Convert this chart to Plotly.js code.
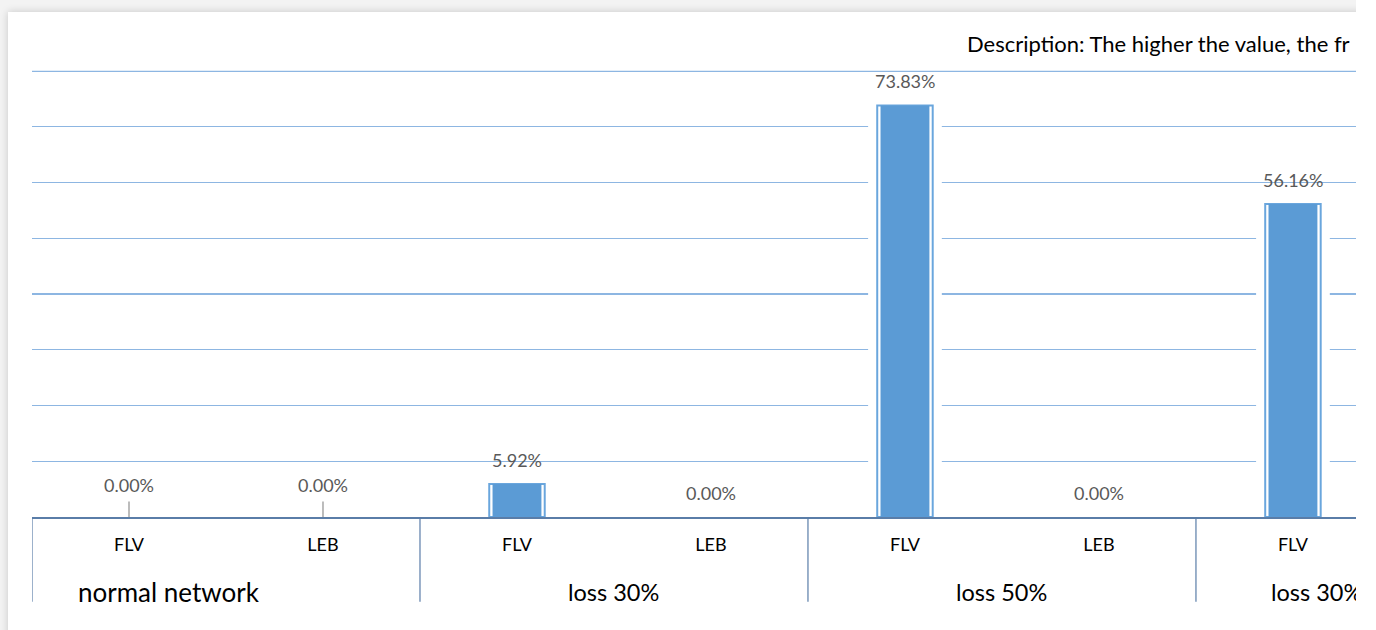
<!DOCTYPE html>
<html>
<head>
<meta charset="utf-8">
<script src="https://cdn.plot.ly/plotly-3.0.1.min.js"></script>
<style>
  html, body { margin: 0; padding: 0; background: #ffffff; }
  #wrap { position: relative; width: 1356px; height: 630px; overflow: hidden; background: #f3f3f3; }
  #card { position: absolute; left: 8px; top: 12px; width: 1500px; height: 700px; background: #ffffff;
          box-shadow: 0 0 8px rgba(0,0,0,0.18); }
  #chart { position: absolute; left: 0; top: 0; width: 1356px; height: 630px; }
</style>
</head>
<body>
<div id="wrap">
  <div id="card"></div>
  <div id="chart"></div>
</div>
<script>
// ---- data ----
const groups = ["normal network", "loss 30%", "loss 50%", "loss 30%"];
const categories = ["FLV", "LEB", "FLV", "LEB", "FLV", "LEB", "FLV"];
const groupOf = [0, 0, 1, 1, 2, 2, 3];
const values = [0.00, 0.00, 5.92, 0.00, 73.83, 0.00, 56.16];
const description = "Description: The higher the value, the fr";
const yMax = 80;

// ---- style ----
const BAR = "#5B9BD5";
const FONT = "Lato, 'Open Sans', sans-serif";
const GRID = "#8DB6E2";
const groupLabelShift = [-57, 0, 0, 0];     // pixel shifts of group labels
const groupLabelSize = [26, 23.5, 23.5, 23.5];
const lastGroupCenter = 6.12;               // visible part of the cut-off last group

const xs = categories.map((_, i) => i);

const halo = {
  type: "bar", x: xs, y: values, width: 0.38,
  marker: { color: "#ffffff", line: { width: 0 } },
  hoverinfo: "skip", showlegend: false
};
const outline = {
  type: "bar", x: xs, y: values, width: 0.286,
  marker: { color: "#ffffff", line: { color: "#6AA6DD", width: values.map(v => v > 0 ? 2 : 0) } },
  hoverinfo: "skip", showlegend: false
};
const fill = {
  type: "bar", x: xs, y: values, width: 0.252,
  marker: { color: BAR, line: { width: 0 } },
  showlegend: false
};

// group dividers
const shapes = [];
const bounds = [-0.5];
for (let i = 1; i < groupOf.length; i++) if (groupOf[i] !== groupOf[i - 1]) bounds.push(i - 0.5);
bounds.forEach(b => shapes.push({
  type: "line", xref: "x", yref: "paper", x0: b, x1: b, y0: 0, y1: -0.19,
  line: { color: "#5A7DA8", width: 1.2 }
}));
// top gridline (at the range maximum)
shapes.push({
  type: "line", xref: "paper", yref: "paper", x0: 0, x1: 1, y0: 0.999, y1: 0.999,
  line: { color: GRID, width: 1.2 }, layer: "above"
});

const annotations = [];
// data labels
values.forEach((v, i) => {
  const txt = v.toFixed(2) + "%";
  if (groupOf[i] === 0) {
    annotations.push({
      x: i, y: v, xref: "x", yref: "y", text: txt, showarrow: true,
      arrowhead: 0, ax: 0, ay: -32, arrowcolor: "#A6A6A6", arrowwidth: 1.5, startstandoff: 4,
      font: { family: FONT, size: 18, color: "#595959" }
    });
  } else {
    annotations.push({
      x: i, y: v, xref: "x", yref: "y", text: txt, showarrow: false,
      yanchor: "middle", yshift: 24,
      font: { family: FONT, size: 18, color: "#595959" }
    });
  }
});
// group labels
groups.forEach((g, k) => {
  const idx = groupOf.map((q, i) => q === k ? i : null).filter(i => i !== null);
  let cx = (idx[0] + idx[idx.length - 1] + 1) / 2 - 0.5;
  if (k === groups.length - 1) cx = lastGroupCenter;
  annotations.push({
    x: cx, y: -0.168, xref: "x", yref: "paper", text: g, showarrow: false,
    xanchor: "center", yanchor: "middle", xshift: groupLabelShift[k],
    font: { family: FONT, size: groupLabelSize[k], color: "#000000" }
  });
});
// description
annotations.push({
  x: 0.7047, y: 1.0625, xref: "paper", yref: "paper", text: description,
  showarrow: false, xanchor: "left", yanchor: "middle",
  font: { family: FONT, size: 22, color: "#000000" }
});

const layout = {
  width: 1356, height: 630,
  margin: { l: 32, r: 0, t: 71, b: 113, pad: 0 },
  paper_bgcolor: "rgba(0,0,0,0)", plot_bgcolor: "rgba(0,0,0,0)",
  barmode: "overlay",
  xaxis: {
    range: [-0.5, 6.325], tickmode: "array", tickvals: xs, ticktext: categories,
    showgrid: false, zeroline: false, showline: true, linecolor: "#5A7DA8", linewidth: 1.5,
    ticks: "", ticklabelstandoff: 11,
    tickfont: { family: FONT, size: 18, color: "#000000" }, fixedrange: true
  },
  yaxis: {
    range: [0, yMax], dtick: 10, showticklabels: false, ticks: "",
    showgrid: true, gridcolor: GRID, gridwidth: 1.2,
    zeroline: false, showline: false, fixedrange: true
  },
  shapes: shapes,
  annotations: annotations,
  showlegend: false
};

Plotly.newPlot("chart", [halo, outline, fill], layout, { displayModeBar: false, staticPlot: true });
</script>
</body>
</html>
